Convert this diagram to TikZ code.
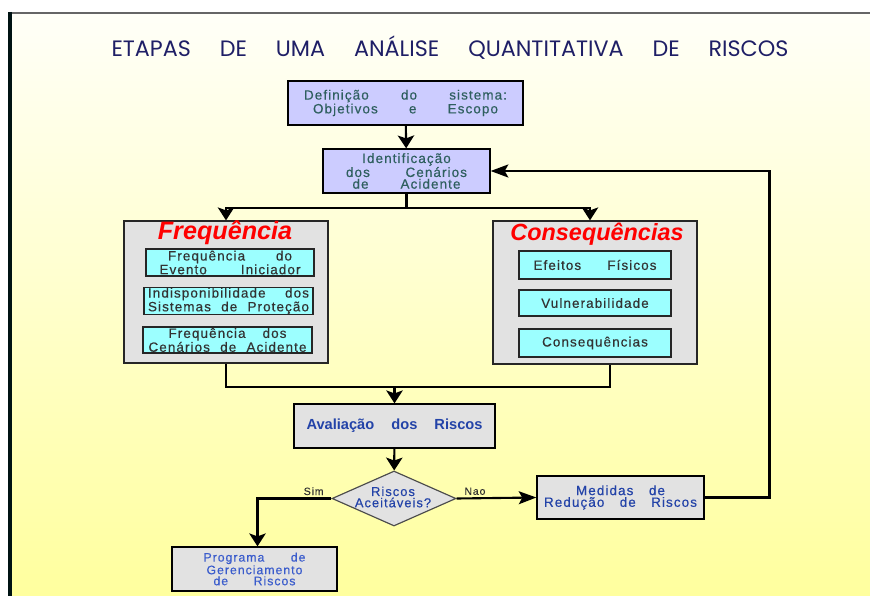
\documentclass[tikz,border=0pt]{standalone}
\usepackage{fontspec}
\setmainfont{Liberation Sans}
\newfontfamily\titlefont{Poppins}
\newfontfamily\boxfont[LetterSpace=8,FakeBold=0.4]{Liberation Sans}
\usetikzlibrary{arrows.meta,positioning,shapes.geometric}

\definecolor{lavbox}{HTML}{CCCCFF}
\definecolor{graybox}{HTML}{E2E2E2}
\definecolor{cyanbox}{HTML}{9CFFFF}
\definecolor{tealtxt}{HTML}{2F5F5F}
\definecolor{bluetxt}{HTML}{2343A8}
\definecolor{lightblue}{HTML}{3A5CCC}
\definecolor{navytxt}{HTML}{1F1F66}
\definecolor{bgtop}{HTML}{FFFFF8}
\definecolor{bgbot}{HTML}{FFFF9E}

\newdimen\pxu \pxu=0.03cm
\newcommand{\jl}[2]{\makebox[#1\pxu][s]{#2}}

\begin{document}
\begin{tikzpicture}[
  x=0.03cm, y=-0.03cm,
  every node/.style={inner sep=0pt, align=center},
  mainbox/.style={draw, line width=1.1pt, fill=lavbox, text=tealtxt,
    font=\boxfont\fontsize{11.5}{10}\selectfont},
  groupbox/.style={draw=black!85, line width=1.1pt, fill=graybox},
  subbox/.style={draw=black!85, line width=1pt, fill=cyanbox, text=black!80,
    font=\boxfont\fontsize{11.5}{10}\selectfont},
  evalbox/.style={draw, line width=1.1pt, fill=graybox, text=bluetxt,
    font=\boxfont\fontsize{11.5}{10}\selectfont},
  decision/.style={diamond, draw=black!70, line width=1pt, fill=graybox},
  head/.style={text=red, font=\bfseries\itshape\fontsize{20.5}{22}\selectfont},
  lbl/.style={text=black!80, font=\boxfont\fontsize{9}{9}\selectfont},
  line/.style={line width=1.8pt},
  arr/.style={-{Stealth[length=11pt,width=14pt,inset=2.5pt]}, line width=1.8pt},
  arrlong/.style={-{Stealth[length=15pt,width=11pt,inset=3pt]}, line width=1.8pt}
]
  \useasboundingbox (0,0) rectangle (870,596);
  \fill[white] (0,0) rectangle (870,596);
  \shade[top color=bgtop, bottom color=bgbot] (10,13) rectangle (870,596);
  \draw[black!60, line width=1.2pt] (9,13) -- (870,13);
  \draw[black!85!teal, line width=3pt] (10,12) -- (10,596);

  \node[text=navytxt, font=\titlefont\fontsize{19}{22}\selectfont] (title) at (450,48)
    {\jl{677}{ETAPAS DE UMA ANÁLISE QUANTITATIVA DE RISCOS}};

  % upper column
  \node[mainbox, minimum width=235\pxu, minimum height=44\pxu] (def) at (405.5,103)
    {\jl{203}{Definição do sistema:}\\\jl{185}{Objetivos e Escopo}};
  \node[mainbox, minimum width=167\pxu, minimum height=44\pxu] (ident) at (406.5,171)
    {Identificação\\\jl{121}{dos Cenários}\\\jl{108}{de Acidente}};

  % frequency group
  \node[groupbox, minimum width=204\pxu, minimum height=142\pxu] (freq) at (226,292) {};
  \node[head, font=\bfseries\itshape\fontsize{21.5}{22}\selectfont] (freqtit) at (225,233) {Frequência};
  \node[subbox, minimum width=168\pxu, minimum height=27\pxu] (fevent) at (230,262.5)
    {\jl{124}{Frequência do}\\\jl{141}{Evento Iniciador}};
  \node[subbox, minimum width=169\pxu, minimum height=26\pxu] (fprot) at (228.5,301)
    {\jl{161}{Indisponibilidade dos}\\\jl{161}{Sistemas de Proteção}};
  \node[subbox, minimum width=169\pxu, minimum height=26\pxu] (fcen) at (227.5,340)
    {\jl{118}{Frequência dos}\\\jl{158}{Cenários de Acidente}};

  % consequence group
  \node[groupbox, minimum width=204\pxu, minimum height=143\pxu] (cons) at (595,292.5) {};
  \node[head, font=\bfseries\itshape\fontsize{20}{22}\selectfont] (constit) at (597,234) {Consequências};
  \node[subbox, minimum width=152\pxu, minimum height=28\pxu] (cfis) at (595,265)
    {\jl{123}{Efeitos Físicos}};
  \node[subbox, minimum width=152\pxu, minimum height=26\pxu] (cvul) at (595,303)
    {Vulnerabilidade};
  \node[subbox, minimum width=152\pxu, minimum height=28\pxu] (ccon) at (595,343)
    {Consequências};

  % evaluation and decision
  \node[evalbox, minimum width=201\pxu, minimum height=44\pxu,
    font=\bfseries\fontsize{12.5}{14}\selectfont] (aval) at (394.5,426)
    {\jl{176}{Avaliação dos Riscos}};
  \node[decision, minimum width=124\pxu, minimum height=55\pxu] (accept) at (394,498.5) {};
  \node[text=bluetxt, font=\boxfont\fontsize{11}{9.6}\selectfont] (accepttxt) at (393,497)
    {Riscos\\Aceitáveis?};
  \node[evalbox, minimum width=167\pxu, minimum height=43\pxu] (med) at (620.5,497.5)
    {\jl{89}{Medidas de}\\\jl{153}{Redução de Riscos}};
  \node[evalbox, minimum width=165\pxu, minimum height=44\pxu, text=lightblue,
    font=\boxfont\fontsize{10.5}{9.4}\selectfont] (prog) at (254.5,569)
    {\jl{102}{Programa de}\\Gerenciamento\\\jl{82}{de Riscos}};

  % connectors
  \draw[arr] (def) -- (ident);
  \draw[line] (ident.south) -- ++(0,14) coordinate (split);
  \draw[arr] (split) -| (freq.north);
  \draw[arr] (split) -| ([xshift=-5\pxu]cons.north);
  \draw[line] (freq.south) -- ++(0,23) coordinate (fbot) -| ([xshift=15\pxu]cons.south);
  \draw[arr] (fbot -| aval.north) -- (aval.north);
  \draw[arr] (aval) -- (accept);
  \draw[arr] (accept.west) -| node[lbl, above=2pt, pos=0.12] (simlbl) {Sim}
    ([xshift=3\pxu]prog.north);
  \draw[arrlong] (accept.east) -- node[lbl, above=2pt, pos=0.23] (naolbl) {Nao} (med.west);
  \draw[arrlong, line width=2.4pt] (med.east) -- ++(65,0) |- (ident.east);
\end{tikzpicture}
\end{document}
